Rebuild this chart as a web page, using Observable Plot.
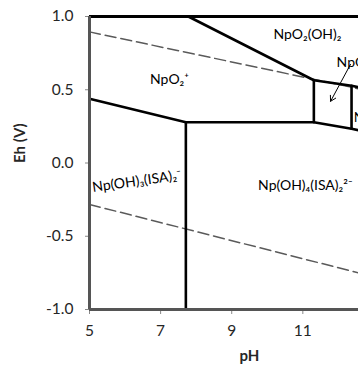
<!DOCTYPE html>
<html><head><meta charset="utf-8">
<script src="https://cdn.jsdelivr.net/npm/d3@7"></script>
<script src="https://cdn.jsdelivr.net/npm/@observablehq/plot@0.6"></script>
<style>
html,body{margin:0;padding:0;overflow:hidden;background:#fff;width:358px;height:370px;}
</style></head><body><div id="chart"></div>
<script>
// Axis ticks
const xTicks = [5, 7, 9, 11];
const yTicks = [-1, -0.5, 0, 0.5, 1];

// Water stability lines (dashed)
const waterUpper = [[5, 0.895], [12.6, 0.505]];
const waterLower = [[5, -0.283], [12.6, -0.752]];

// Predominance boundaries (solid)
const boundaryLower = [[5, 0.439], [7.71, 0.278], [11.31, 0.278], [12.37, 0.234], [12.6, 0.222]];
const boundaryUpper = [[7.78, 1.0], [11.31, 0.565], [12.37, 0.527], [12.6, 0.515]];
const boundaryIII = [[7.71, 0.278], [7.71, -1.0]];
const boundaryBoxL = [[11.31, 0.565], [11.31, 0.278]];
const boundaryBoxR = [[12.37, 0.527], [12.37, 0.234]];

// Species labels (centred)
const labelText = ["NpO₂(OH)₂", "NpO₂⁺", "Np(OH)₄(ISA)₂²⁻"];
const labelPH = [11.13, 7.25, 11.07];
const labelEh = [0.879, 0.568, -0.155];
// Species labels running off the right edge (start-anchored)
const edgeLabelText = ["NpO₂OH(am)", "NpO₂(OH)₃⁻"];
const edgeLabelPH = [11.95, 12.43];
const edgeLabelEh = [0.683, 0.31];
// Tilted label
const rotLabelText = ["Np(OH)₃(ISA)₂⁻"];
const rotLabelPH = [6.33];
const rotLabelEh = [-0.125];

// Arrow pointing into the small box
const arrowFrom = [12.34, 0.673];
const arrowTo = [11.78, 0.421];

const segs = [];
[boundaryLower, boundaryUpper, boundaryIII, boundaryBoxL, boundaryBoxR].forEach((s, i) =>
  s.forEach(([x, y]) => segs.push({x, y, z: i})));
const water = [];
[waterUpper, waterLower].forEach((s, i) => s.forEach(([x, y]) => water.push({x, y, z: i})));
const labels = labelText.map((t, i) => ({t, x: labelPH[i], y: labelEh[i]}));
const edgeLabels = edgeLabelText.map((t, i) => ({t, x: edgeLabelPH[i], y: edgeLabelEh[i]}));
const rotLabels = rotLabelText.map((t, i) => ({t, x: rotLabelPH[i], y: rotLabelEh[i]}));

const font = "Lato, 'Open Sans', 'DejaVu Sans', sans-serif";
const plot = Plot.plot({
  width: 430, height: 370,
  marginLeft: 89, marginRight: 21, marginTop: 16, marginBottom: 61,
  style: {fontFamily: font, fontSize: "15px", color: "#262626", background: "#fff", maxWidth: "none", overflow: "visible"},
  x: {domain: [5, 14]},
  y: {domain: [-1, 1]},
  marks: [
    Plot.line(water, {x: "x", y: "y", z: "z", stroke: "#5a5a5a", strokeWidth: 1.5, strokeDasharray: "11,5"}),
    Plot.line(segs, {x: "x", y: "y", z: "z", stroke: "#000", strokeWidth: 2.6}),
    Plot.ruleY([1], {stroke: "#000", strokeWidth: 3}),
    Plot.axisX({ticks: xTicks, tickSize: 5, tickPadding: 10, stroke: "#888", label: null, fontSize: 15.5}),
    Plot.axisY({ticks: yTicks, tickSize: 4, tickPadding: 12, stroke: "#888", label: null, tickFormat: d => d.toFixed(1), fontSize: 15.5}),
    Plot.ruleX([5], {stroke: "#555", strokeWidth: 3}),
    Plot.ruleY([-1], {stroke: "#555", strokeWidth: 3}),
    Plot.text(labels, {x: "x", y: "y", text: "t", fontSize: 14, fill: "#000"}),
    Plot.text(edgeLabels, {x: "x", y: "y", text: "t", textAnchor: "start", fontSize: 14, fill: "#000"}),
    Plot.text(rotLabels, {x: "x", y: "y", text: "t", rotate: -8, fontSize: 14, fill: "#000"}),
    Plot.arrow([{}], {x1: arrowFrom[0], y1: arrowFrom[1], x2: arrowTo[0], y2: arrowTo[1], stroke: "#000", strokeWidth: 1, headLength: 9}),
    Plot.text(["Eh (V)"], {frameAnchor: "left", dx: -69, rotate: -90, fontWeight: "bold", fontSize: 15, fill: "#262626"}),
    Plot.text(["pH"], {frameAnchor: "bottom", dy: 51, fontWeight: "bold", fontSize: 15, fill: "#262626"})
  ]
});
document.getElementById("chart").appendChild(plot);
</script></body></html>
